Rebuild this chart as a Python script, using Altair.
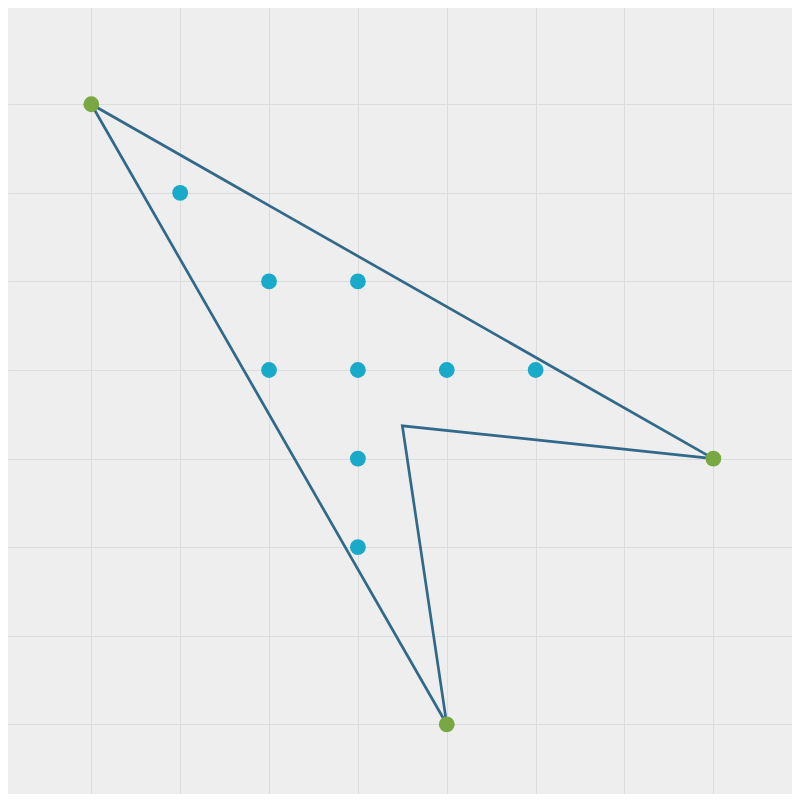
import altair as alt
import pandas as pd

# Polygon vertices (closed path), in data units
poly_x = [0, 7, 3.5, 4, 0]
poly_y = [7, 3, 3.37, 0, 7]

# Hull corner points (green)
corner_x = [0, 7, 4]
corner_y = [7, 3, 0]

# Inner points (blue)
inner_x = [1, 2, 3, 2, 3, 4, 5, 3, 3]
inner_y = [6, 5, 5, 4, 4, 4, 4, 3, 2]

grid_vals = [0, 1, 2, 3, 4, 5, 6, 7]

poly = pd.DataFrame({"x": poly_x, "y": poly_y, "order": list(range(len(poly_x)))})
corners = pd.DataFrame({"x": corner_x, "y": corner_y})
inner = pd.DataFrame({"x": inner_x, "y": inner_y})

xs = alt.Scale(domain=[-0.9375, 7.885], nice=False, zero=False)
ys = alt.Scale(domain=[-0.787, 8.087], nice=False, zero=False)
xa = alt.Axis(values=grid_vals, labels=False, ticks=False, domain=False, title=None, grid=True)
ya = alt.Axis(values=grid_vals, labels=False, ticks=False, domain=False, title=None, grid=True)

line = alt.Chart(poly).mark_line(color="#30698a", strokeWidth=2.7).encode(
    x=alt.X("x:Q", scale=xs, axis=xa),
    y=alt.Y("y:Q", scale=ys, axis=ya),
    order="order:Q",
)

pts_in = alt.Chart(inner).mark_circle(color="#19a9c9", opacity=1, size=250).encode(
    x=alt.X("x:Q", scale=xs),
    y=alt.Y("y:Q", scale=ys),
)

pts_c = alt.Chart(corners).mark_circle(color="#79a743", opacity=1, size=250).encode(
    x=alt.X("x:Q", scale=xs),
    y=alt.Y("y:Q", scale=ys),
)

chart = (line + pts_in + pts_c).properties(
    width=784, height=786, padding=0, background="#eeeeee"
).configure_view(fill="#eeeeee", stroke=None).configure_axis(gridColor="#dcdcdc", gridWidth=1)

chart.save("out.html", embed_options={"renderer": "svg", "actions": False})
